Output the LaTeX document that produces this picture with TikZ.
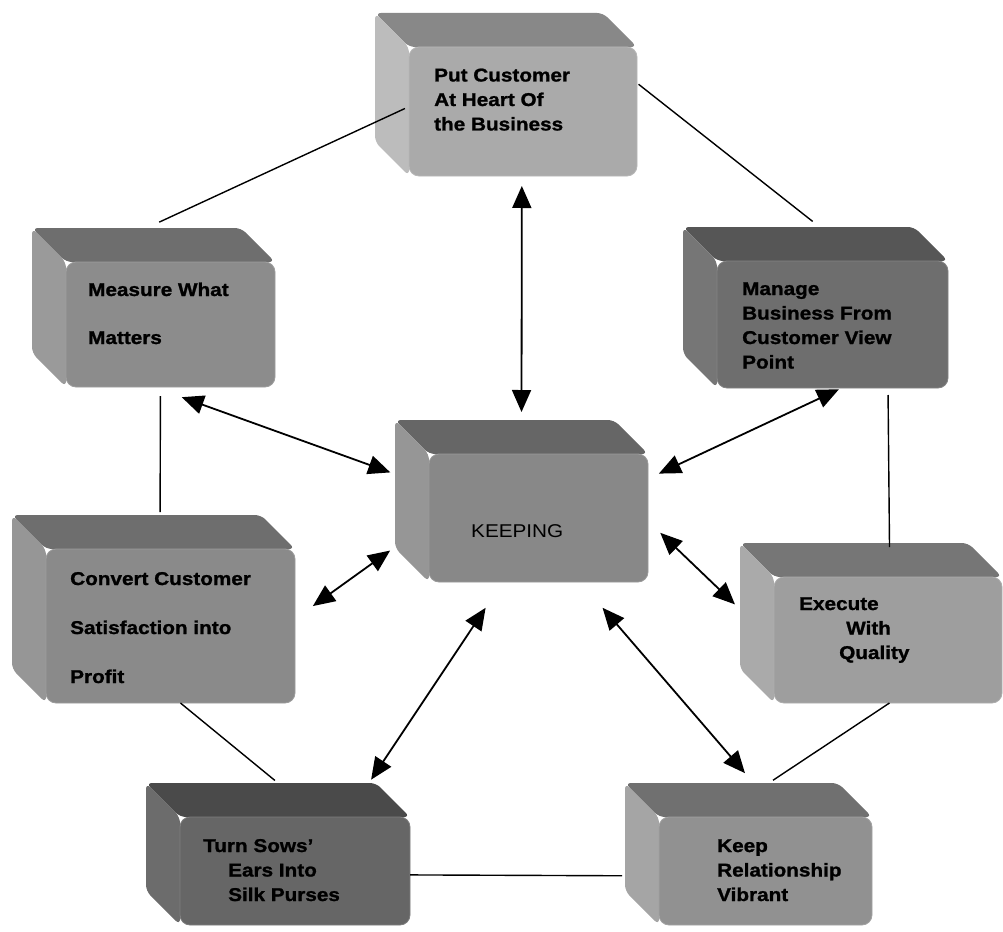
\documentclass[tikz,border=0pt]{standalone}
\usepackage{fontspec}
\setmainfont{Liberation Sans}[FakeStretch=1.12, BoldFeatures={FakeBold=1.2}]
\usetikzlibrary{arrows.meta}

% face colours of the boxes
\definecolor{putF}{RGB}{170,170,170}\definecolor{putT}{RGB}{136,136,136}\definecolor{putS}{RGB}{188,188,188}
\definecolor{measF}{RGB}{140,140,140}\definecolor{measT}{RGB}{110,110,110}\definecolor{measS}{RGB}{154,154,154}
\definecolor{manF}{RGB}{110,110,110}\definecolor{manT}{RGB}{86,86,86}\definecolor{manS}{RGB}{118,118,118}
\definecolor{keepF}{RGB}{136,136,136}\definecolor{keepT}{RGB}{102,102,102}\definecolor{keepS}{RGB}{150,150,150}
\definecolor{convF}{RGB}{138,138,138}\definecolor{convT}{RGB}{110,110,110}\definecolor{convS}{RGB}{150,150,150}
\definecolor{exeF}{RGB}{158,158,158}\definecolor{exeT}{RGB}{118,118,118}\definecolor{exeS}{RGB}{170,170,170}
\definecolor{sowsF}{RGB}{102,102,102}\definecolor{sowsT}{RGB}{74,74,74}\definecolor{sowsS}{RGB}{108,108,108}
\definecolor{relF}{RGB}{145,145,145}\definecolor{relT}{RGB}{112,112,112}\definecolor{relS}{RGB}{165,165,165}

\tikzset{
  cube/.style={rectangle, inner sep=0pt, outer sep=0pt},
  boxtext/.style={font=\bfseries\fontsize{18.5}{24.5}\selectfont, align=left, anchor=base west, inner sep=0pt},
  link/.style={line width=1.4pt},
  dbl/.style={{Triangle[length=22pt,width=19pt]}-{Triangle[length=22pt,width=19pt]}, line width=1.8pt}
}

% #1 node name, #2 colour prefix
\newcommand{\cubefaces}[2]{
  \fill[#2T, rounded corners=6pt] (#1.north west) -- ([shift={(-34,0)}]#1.north east)
    -- ([shift={(0,34)}]#1.north east) -- ([shift={(34,34)}]#1.north west) -- cycle;
  \fill[#2S, rounded corners=6pt] (#1.north west) -- ([shift={(34,34)}]#1.north west)
    -- ([shift={(34,0)}]#1.south west) -- ([shift={(0,-34)}]#1.south west) -- cycle;
  \fill[#2F, draw=#2F!85!white, line width=0.8pt, rounded corners=10pt]
    ([shift={(34,34)}]#1.north west) rectangle (#1.south east);
}

\begin{document}
\begin{tikzpicture}[x=1pt, y=-1pt]
  \useasboundingbox (0,0) rectangle (1003,931);

  % boxes
  \node[cube, minimum width=262, minimum height=163] (put) at (506,94.5) {};
  \node[cube, minimum width=243, minimum height=159] (meas) at (153.5,307.5) {};
  \node[cube, minimum width=265, minimum height=161] (man) at (815.5,307.5) {};
  \node[cube, minimum width=253, minimum height=162] (keep) at (521.5,501) {};
  \node[cube, minimum width=283, minimum height=188] (conv) at (153.5,609) {};
  \node[cube, minimum width=262, minimum height=160] (exe) at (871,623) {};
  \node[cube, minimum width=264, minimum height=142] (sows) at (278,854) {};
  \node[cube, minimum width=247, minimum height=142] (rel) at (748.5,854) {};

  \cubefaces{put}{put}
  \cubefaces{meas}{meas}
  \cubefaces{man}{man}
  \cubefaces{keep}{keep}
  \cubefaces{conv}{conv}
  \cubefaces{exe}{exe}
  \cubefaces{sows}{sows}
  \cubefaces{rel}{rel}

  % labels (placed at the baseline of their last line)
  \node[boxtext] (putL) at (434,130.5) {Put Customer\\At Heart Of\\the Business};
  \node[boxtext, font=\bfseries\fontsize{18.5}{48}\selectfont] (measL) at (88,344) {Measure What\\Matters};
  \node[boxtext] (manL) at (742,368.5) {Manage\\Business From\\Customer View\\Point};
  \node[boxtext, font=\fontsize{18.5}{24.5}\selectfont] (keepL) at (471,537) {KEEPING};
  \node[boxtext, font=\bfseries\fontsize{18.5}{49}\selectfont] (convL) at (70,683) {Convert Customer\\Satisfaction into\\Profit};
  \node[boxtext] (exeL) at (799,659) {Execute\\\hspace*{47pt}With\\\hspace*{40pt}Quality};
  \node[boxtext] (sowsL) at (203,901) {Turn Sows’\\\hspace*{25pt}Ears Into\\\hspace*{25pt}Silk Purses};
  \node[boxtext] (relL) at (717,901) {Keep\\Relationship\\Vibrant};

  % ring of plain links
  \draw[link, shorten <=14pt, shorten >=-33pt] (meas.95) -- (put.192);
  \draw[link, shorten <=2pt, shorten >=9pt] (put.5) -- (man.87);
  \draw[link, shorten <=7pt, shorten >=-4pt] (man.-48) -- (exe.77);
  \draw[link, shorten <=9pt, shorten >=3pt] (meas.-85) -- (conv.86);
  \draw[link, shorten >=4pt] (conv.-74) -- (sows.north);
  \draw[link, shorten >=3pt] (sows.-9.5) -- (rel.190);
  \draw[link, shorten <=5pt] (rel.74) -- (exe.-77);

  % arrows to the centre
  \draw[dbl, shorten <=8pt, shorten >=10pt] (keep.north) -- (put.-79);
  \draw[dbl, shorten <=5pt, shorten >=30pt] (keep.168) -- (meas.south);
  \draw[dbl, shorten <=12pt, shorten >=3pt] (keep.10) -- (man.-72);
  \draw[dbl, shorten <=6pt, shorten >=22pt] (keep.200) -- (conv.-4);
  \draw[dbl, shorten <=17pt, shorten >=7pt] (keep.-9) -- (exe.174);
  \draw[dbl, shorten <=31pt, shorten >=4pt] (keep.-103) -- (sows.38);
  \draw[dbl, shorten <=34pt, shorten >=13pt] (keep.-54) -- (rel.86);
\end{tikzpicture}
\end{document}
